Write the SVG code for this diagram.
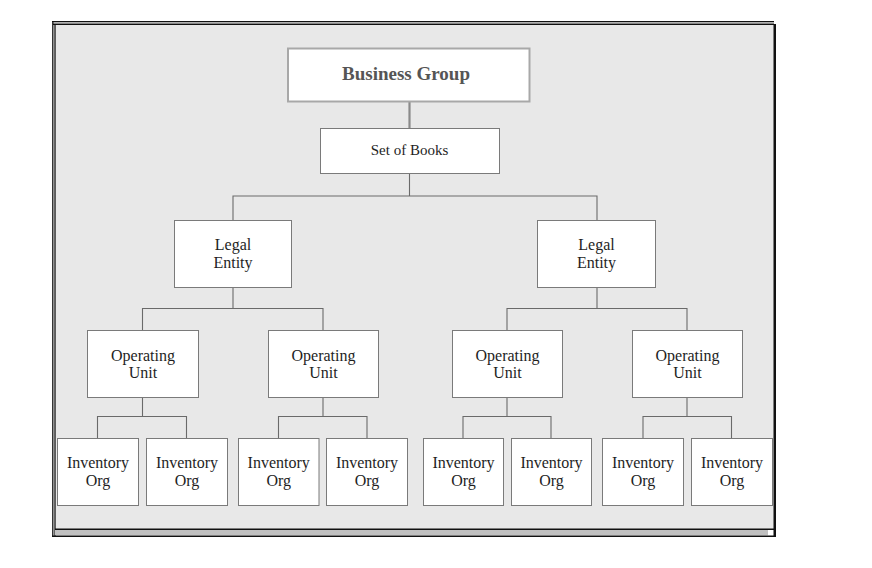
<svg xmlns="http://www.w3.org/2000/svg" width="872" height="568" viewBox="0 0 872 568">
<style>
.box{fill:#ffffff;stroke:#7a7a7a;stroke-width:1}
.t{font-family:"Liberation Serif","Times New Roman",serif;font-size:16px;fill:#1e1e1e;text-anchor:middle}
.c{fill:none;stroke:#6a6a6a;stroke-width:1.1}
</style>
<rect x="0" y="0" width="872" height="568" fill="#ffffff"/>
<g id="frame">
<rect x="55" y="24" width="719" height="505" fill="#e8e8e8"/>
<rect x="53" y="22" width="721" height="2" fill="#b0b0b0"/>
<line x1="52" y1="21.5" x2="774" y2="21.5" stroke="#111" stroke-width="1.2"/>
<line x1="53" y1="24.3" x2="774" y2="24.3" stroke="#111" stroke-width="1.2"/>
<line x1="52.8" y1="21" x2="52.8" y2="537" stroke="#111" stroke-width="1.3"/>
<line x1="55" y1="24" x2="55" y2="536" stroke="#111" stroke-width="1.3"/>
<rect x="55" y="530" width="713" height="5.3" fill="#c0c0c0"/>
<line x1="55" y1="529.2" x2="775" y2="529.2" stroke="#111" stroke-width="1.6"/>
<line x1="52" y1="536.2" x2="775" y2="536.2" stroke="#111" stroke-width="1.4"/>
<rect x="773.5" y="24" width="2.5" height="513" fill="#111"/>
</g>
<g id="connectors">
<path d="M409.5,102 V128" fill="none" stroke="#8a8a8a" stroke-width="2.2"/>
<path class="c" d="M409.5,173 V196 M233,220 V196 H597 V220"/>
<path class="c" d="M233,287 V308.5 M142.5,330 V308.5 H323 V330"/>
<path class="c" d="M597,287 V308.5 M507,330 V308.5 H687 V330"/>
<path class="c" d="M142.5,397 V416.5 M97.5,438 V416.5 H186.5 V438"/>
<path class="c" d="M323,397 V416.5 M278.5,438 V416.5 H367 V438"/>
<path class="c" d="M507,397 V416.5 M463,438 V416.5 H551 V438"/>
<path class="c" d="M687,397 V416.5 M643,438 V416.5 H731.5 V438"/>
</g>
<g id="business-group">
<rect x="288" y="48.5" width="241.5" height="53" fill="#ffffff" stroke="#a8a8a8" stroke-width="2"/>
<text x="406" y="80" style="font-family:'Liberation Serif','Times New Roman',serif;font-size:19px;font-weight:bold;fill:#555555;text-anchor:middle">Business Group</text>
</g>
<g id="set-of-books">
<rect class="box" x="320.5" y="128.5" width="179" height="45"/>
<text class="t" x="409.5" y="155" style="font-size:15px">Set of Books</text>
</g>
<g id="legal-entity-1">
<rect class="box" x="174.5" y="220.5" width="117" height="67"/>
<text class="t" x="233" y="250">Legal</text>
<text class="t" x="233" y="268">Entity</text>
</g>
<g id="legal-entity-2">
<rect class="box" x="537.5" y="220.5" width="118" height="67"/>
<text class="t" x="596.5" y="250">Legal</text>
<text class="t" x="596.5" y="268">Entity</text>
</g>
<g id="operating-unit-1">
<rect class="box" x="87.5" y="330.5" width="111" height="67"/>
<text class="t" x="143" y="360.5">Operating</text>
<text class="t" x="143" y="377.5">Unit</text>
</g>
<g id="operating-unit-2">
<rect class="box" x="268.5" y="330.5" width="110" height="67"/>
<text class="t" x="323.5" y="360.5">Operating</text>
<text class="t" x="323.5" y="377.5">Unit</text>
</g>
<g id="operating-unit-3">
<rect class="box" x="452.5" y="330.5" width="110" height="67"/>
<text class="t" x="507.5" y="360.5">Operating</text>
<text class="t" x="507.5" y="377.5">Unit</text>
</g>
<g id="operating-unit-4">
<rect class="box" x="632.5" y="330.5" width="110" height="67"/>
<text class="t" x="687.5" y="360.5">Operating</text>
<text class="t" x="687.5" y="377.5">Unit</text>
</g>
<g id="inventory-org-1">
<rect class="box" x="57.5" y="438.5" width="81" height="67"/>
<text class="t" x="98" y="467.5">Inventory</text>
<text class="t" x="98" y="485.5">Org</text>
</g>
<g id="inventory-org-2">
<rect class="box" x="146.5" y="438.5" width="81" height="67"/>
<text class="t" x="187" y="467.5">Inventory</text>
<text class="t" x="187" y="485.5">Org</text>
</g>
<g id="inventory-org-3">
<rect class="box" x="238.5" y="438.5" width="80.5" height="67"/>
<text class="t" x="278.7" y="467.5">Inventory</text>
<text class="t" x="278.7" y="485.5">Org</text>
</g>
<g id="inventory-org-4">
<rect class="box" x="326.5" y="438.5" width="81" height="67"/>
<text class="t" x="367" y="467.5">Inventory</text>
<text class="t" x="367" y="485.5">Org</text>
</g>
<g id="inventory-org-5">
<rect class="box" x="423.5" y="438.5" width="80" height="67"/>
<text class="t" x="463.5" y="467.5">Inventory</text>
<text class="t" x="463.5" y="485.5">Org</text>
</g>
<g id="inventory-org-6">
<rect class="box" x="511.5" y="438.5" width="80" height="67"/>
<text class="t" x="551.5" y="467.5">Inventory</text>
<text class="t" x="551.5" y="485.5">Org</text>
</g>
<g id="inventory-org-7">
<rect class="box" x="602.5" y="438.5" width="81" height="67"/>
<text class="t" x="643" y="467.5">Inventory</text>
<text class="t" x="643" y="485.5">Org</text>
</g>
<g id="inventory-org-8">
<rect class="box" x="691.5" y="438.5" width="81" height="67"/>
<text class="t" x="732" y="467.5">Inventory</text>
<text class="t" x="732" y="485.5">Org</text>
</g>
</svg>
